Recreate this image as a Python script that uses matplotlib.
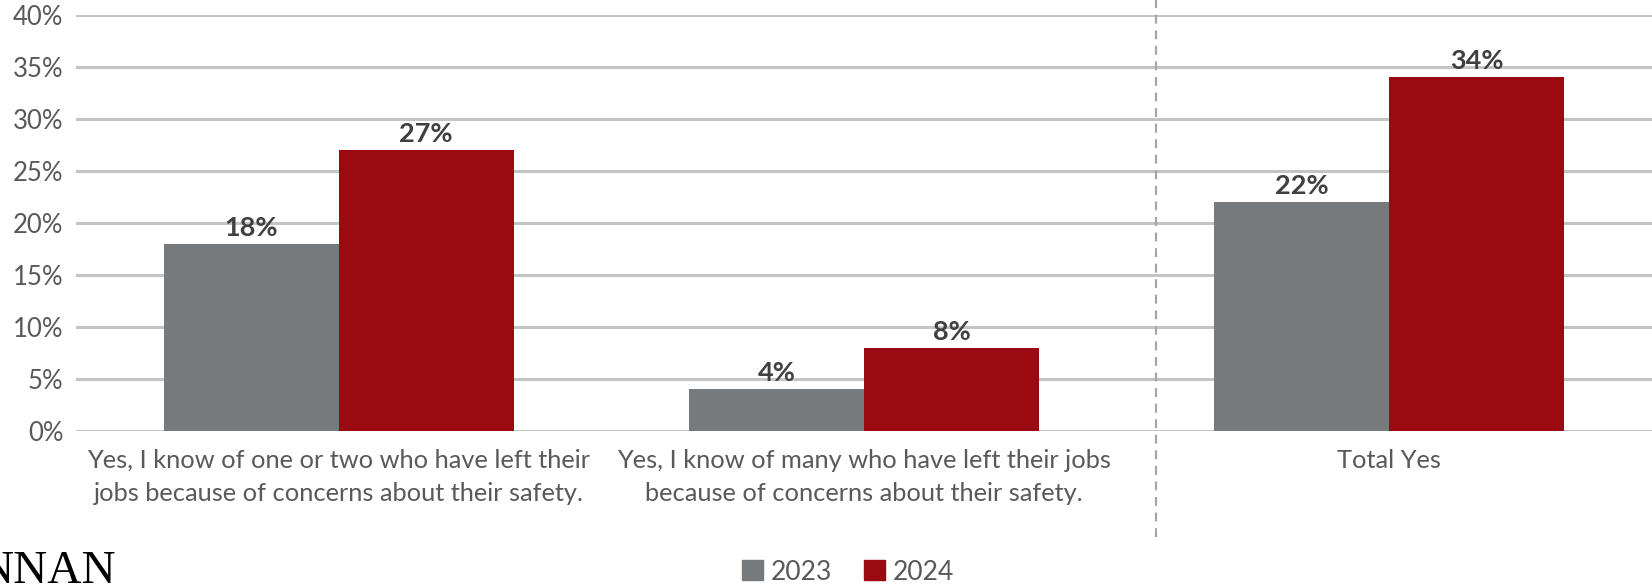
"""
Grouped bar chart: staff leaving jobs over safety concerns, 2023 vs 2024
"""

import numpy as np
import matplotlib.pyplot as plt
from matplotlib.patches import Patch

categories = ['Yes, I know of one or two who have left their\njobs because of concerns about their safety.',
              'Yes, I know of many who have left their jobs\nbecause of concerns about their safety.',
              'Total Yes']
years = ['2023', '2024']
vals_2023 = [18, 4, 22]
vals_2024 = [27, 8, 34]
yticks = [0, 5, 10, 15, 20, 25, 30, 35, 40]

col_2023 = '#767a7d'
col_2024 = '#9b0a11'
txt_col = '#595959'
font = 'Lato'

fig = plt.figure(figsize=(16.52, 5.85), dpi=100)
ax = fig.add_axes([76/1652, 1-431/585, 1-76/1652, (431-15)/585])

x = np.arange(len(categories))
w = 0.333
ax.bar(x - w/2, vals_2023, w, color=col_2023, zorder=3)
ax.bar(x + w/2, vals_2024, w, color=col_2024, zorder=3)

for xi, v in zip(x - w/2, vals_2023):
    ax.text(xi, v + 0.4, '{}%'.format(v), ha='center', va='bottom', fontsize=19.5,
            fontweight='bold', color='#404040', family=font)
for xi, v in zip(x + w/2, vals_2024):
    ax.text(xi, v + 0.4, '{}%'.format(v), ha='center', va='bottom', fontsize=19.5,
            fontweight='bold', color='#404040', family=font)

ax.set_xlim(-0.5, 2.5)
ax.set_ylim(0, 40)
ax.set_yticks(yticks)
ax.set_yticklabels(['{}%'.format(t) for t in yticks], fontsize=18.5, color=txt_col, family=font)
ax.set_xticks(x)
ax.set_xticklabels(categories, fontsize=18.3, color=txt_col, family=font, linespacing=1.5)
ax.tick_params(axis='both', length=0)
ax.tick_params(axis='y', pad=9)
ax.tick_params(axis='x', pad=13)
for s in ax.spines.values():
    s.set_visible(False)
ax.grid(axis='y', color='#c4c4c4', lw=2.2, zorder=0)

# dashed separator before the total
ax.plot([1.555, 1.555], [-0.255, 1.04], transform=ax.get_xaxis_transform(),
        ls=(0, (4, 3)), color='#a6a6a6', lw=1.6, clip_on=False)

handles = [Patch(color=col_2023), Patch(color=col_2024)]
fig.legend(handles, years, loc='center', bbox_to_anchor=(848/1652, 1-572/585), ncol=2,
           frameon=False, prop={'family': font, 'size': 19}, handlelength=0.8,
           handleheight=0.8, handletextpad=0.3, columnspacing=1.2, labelcolor=txt_col)

# cropped logo text at the bottom left, as in the source image
fig.text(116/1652, 1-583/585, 'NNAN', ha='right', va='baseline', fontsize=34,
         family='Liberation Serif', color='black')

plt.savefig('out.png', dpi=100)
